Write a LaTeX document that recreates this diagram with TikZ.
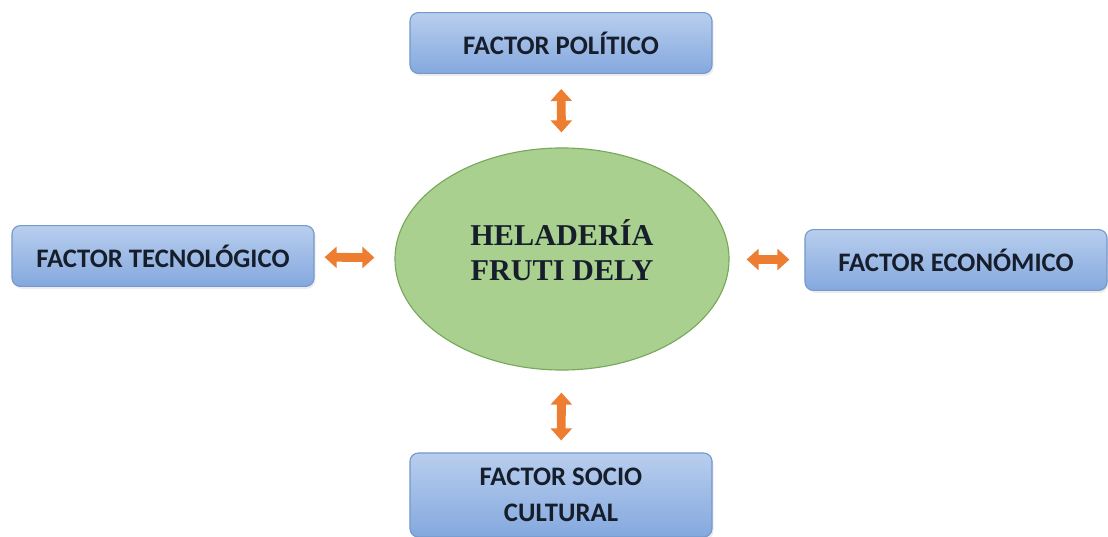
\documentclass[tikz,border=0pt]{standalone}
\usepackage{fontspec}
\setmainfont{Liberation Serif}
\newfontfamily\boxfont{Carlito}
\usepackage{tikz}
\usetikzlibrary{arrows.meta, shapes.geometric, shadows}
\usepackage{xcolor}
\definecolor{boxtop}{RGB}{184,206,238}
\definecolor{boxbot}{RGB}{132,168,222}
\definecolor{boxline}{RGB}{118,152,204}
\definecolor{ellfill}{RGB}{169,208,142}
\definecolor{ellline}{RGB}{120,168,90}
\definecolor{arrowcol}{RGB}{237,125,49}
\definecolor{txtcol}{RGB}{22,30,44}

\begin{document}
\begin{tikzpicture}[
    x=0.025cm, y=-0.025cm,
    factor/.style={rectangle, rounded corners=6pt, draw=boxline, line width=0.8pt, top color=boxtop, bottom color=boxbot, minimum width=7.55cm, minimum height=1.52cm, align=center, text=txtcol, font=\boxfont\bfseries\fontsize{19}{25.5}\selectfont, drop shadow={opacity=0.15, shadow xshift=0.04cm, shadow yshift=-0.06cm}},
    center/.style={ellipse, draw=ellline, line width=0.8pt, fill=ellfill, minimum width=8.35cm, minimum height=5.55cm, align=center, text=txtcol, text depth=0.45cm, font=\bfseries\fontsize{21.5}{25}\selectfont},
    biarrow/.style={{Triangle[width=0.52cm, length=0.3cm]}-{Triangle[width=0.52cm, length=0.3cm]}, line width=0.22cm, draw=arrowcol}
]
    \useasboundingbox (0,0) rectangle (1108,537);

    % Center
    \node[center] (heladeria) at (562,259) {HELADERÍA\\FRUTI DELY};

    % Factors
    \node[factor] (politico) at (561,43) {FACTOR POLÍTICO};
    \node[factor] (tecnologico) at (163,256) {FACTOR TECNOLÓGICO};
    \node[factor] (economico) at (956,260) {FACTOR ECONÓMICO};
    \node[factor, minimum height=2.1cm] (sociocultural) at (561,495) {FACTOR SOCIO\\CULTURAL};

    % Double arrows
    \draw[biarrow, shorten <=15*0.025cm, shorten >=15*0.025cm] (politico) -- (heladeria);
    \draw[biarrow, shorten <=10*0.025cm, shorten >=20*0.025cm] (tecnologico) -- (heladeria);
    \draw[biarrow, shorten <=15*0.025cm, shorten >=17*0.025cm] (economico) -- (heladeria);
    \draw[biarrow, shorten <=12*0.025cm, shorten >=22*0.025cm] (sociocultural) -- (heladeria);
\end{tikzpicture}
\end{document}
